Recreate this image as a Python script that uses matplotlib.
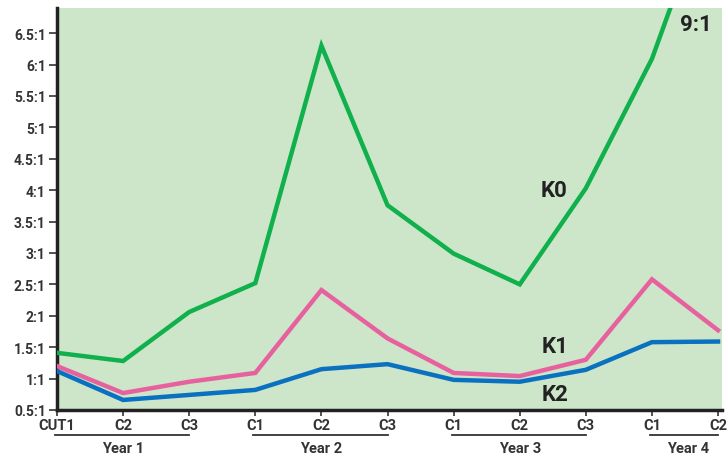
import matplotlib
matplotlib.use("Agg")
import matplotlib.pyplot as plt
from matplotlib.transforms import blended_transform_factory

# ---- data ----
cut_labels = ["CUT1", "C2", "C3", "C1", "C2", "C3", "C1", "C2", "C3", "C1", "C2"]
year_labels = ["Year 1", "Year 2", "Year 3", "Year 4"]
year_spans = [(0, 2), (3, 5), (6, 8), (9, 10)]
k0 = [1.41, 1.28, 2.06, 2.52, 6.30, 3.76, 2.99, 2.50, 4.03, 6.09, 9.0]
k1 = [1.20, 0.77, 0.95, 1.09, 2.41, 1.64, 1.09, 1.04, 1.30, 2.58, 1.77]
k2 = [1.12, 0.66, 0.74, 0.82, 1.15, 1.23, 0.98, 0.95, 1.14, 1.58, 1.59]
y_ticks = [0.5, 1, 1.5, 2, 2.5, 3, 3.5, 4, 4.5, 5, 5.5, 6, 6.5]
y_tick_labels = ["0.5:1", "1:1", "1.5:1", "2:1", "2.5:1", "3:1", "3.5:1",
                 "4:1", "4.5:1", "5:1", "5.5:1", "6:1", "6.5:1"]

plt.rcParams['font.family'] = ['Roboto', 'DejaVu Sans']

fig = plt.figure(figsize=(7.28, 4.56), dpi=100)
ax = fig.add_axes([57/728, 45/456, 665/728, 402/456])
ax.set_facecolor("#cde6ca")

x = list(range(len(cut_labels)))
ax.plot(x, k0, color="#10b04c", lw=3.2, solid_joinstyle="miter", zorder=3)
ax.plot(x, k1, color="#e8619f", lw=3.2, solid_joinstyle="miter", zorder=3)
ax.plot(x, k2, color="#0a70c0", lw=3.2, solid_joinstyle="miter", zorder=4)

ax.set_xlim(0, 10.06)
ax.set_ylim(0.52, 6.9)

ax.set_yticks(y_ticks)
ax.set_yticklabels(y_tick_labels, fontsize=10, fontweight="bold", color="#333333")
ax.set_xticks(x)
ax.set_xticklabels(cut_labels, fontsize=10.5, fontweight="bold", color="#333333")
ax.tick_params(axis="y", length=6, width=1.2, color="#333333", pad=2)
ax.tick_params(axis="x", length=4, width=1.2, color="#333333", pad=2)

for s in ["top", "right"]:
    ax.spines[s].set_visible(False)
ax.spines["left"].set_linewidth(2.5)
ax.spines["bottom"].set_linewidth(2.5)
ax.spines["left"].set_color("#222222")
ax.spines["bottom"].set_color("#222222")

trans = blended_transform_factory(ax.transData, ax.transAxes)
for lab, (a, b) in zip(year_labels, year_spans):
    ax.plot([a - 0.03, b], [-0.063, -0.063], color="#333333", lw=1.3,
            transform=trans, clip_on=False)
    cx = (a + b) / 2
    if lab == "Year 4":
        cx = a + 0.55
    ax.text(cx, -0.095, lab, transform=trans, ha="center", va="center",
            fontsize=10.5, fontweight="bold", color="#333333")

lab_kw = dict(fontsize=16, fontweight="bold", color="#222222", ha="center", va="center")
ax.text(7.52, 4.01, "K0", **lab_kw)
ax.text(7.54, 1.52, "K1", **lab_kw)
ax.text(7.54, 0.75, "K2", **lab_kw)
ax.text(9.66, 6.64, "9:1", **lab_kw)

fig.savefig("out.png", dpi=100)
